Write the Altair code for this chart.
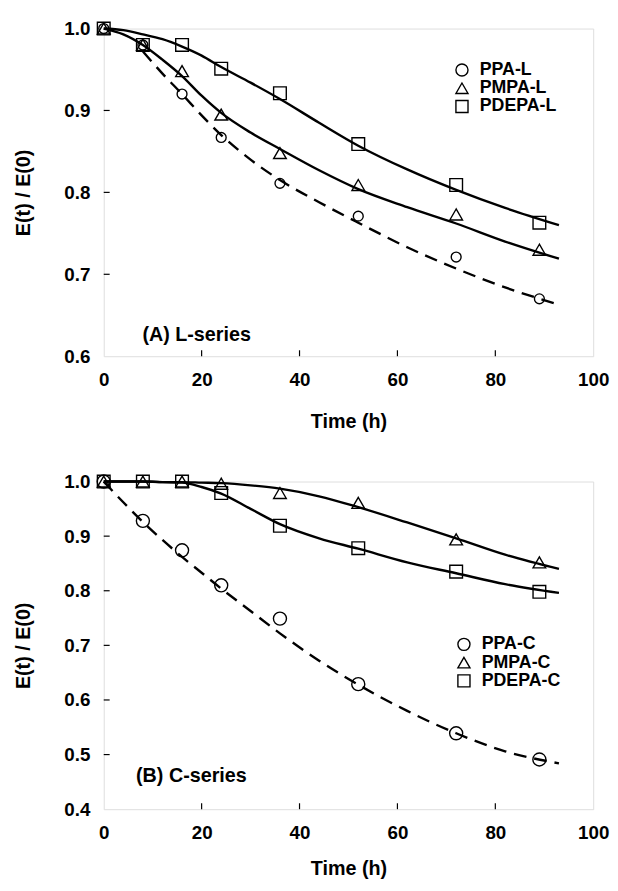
import altair as alt
import pandas as pd

# ---------------- data ----------------
t_obs = [0, 8, 16, 24, 36, 52, 72, 89]

# (A) L-series measured points
ppa_l = [1.0, 0.98, 0.92, 0.867, 0.811, 0.771, 0.721, 0.670]
pmpa_l = [1.0, 0.98, 0.948, 0.895, 0.848, 0.809, 0.773, 0.730]
pdepa_l = [1.0, 0.98, 0.98, 0.951, 0.921, 0.859, 0.809, 0.763]

# (B) C-series measured points
ppa_c = [1.0, 0.928, 0.874, 0.810, 0.749, 0.629, 0.539, 0.491]
pmpa_c = [1.0, 1.0, 1.0, 0.996, 0.979, 0.961, 0.894, 0.852]
pdepa_c = [1.0, 1.0, 1.0, 0.979, 0.919, 0.878, 0.835, 0.798]

# fitted curves
fit_t = [0, 4, 8, 12, 16, 20, 24, 30, 36, 44, 52, 62, 72, 82, 93]
fit_pdepa_l = [1.0, 0.998, 0.993, 0.987, 0.978, 0.967, 0.953, 0.934, 0.914, 0.885, 0.857, 0.828, 0.803, 0.781, 0.760]
fit_pmpa_l = [1.0, 0.993, 0.980, 0.962, 0.942, 0.918, 0.897, 0.873, 0.853, 0.827, 0.804, 0.782, 0.762, 0.740, 0.719]
fit_ppa_l_t = [8, 12, 16, 20, 24, 30, 36, 44, 52, 62, 72, 82, 93]
fit_ppa_l = [0.972, 0.945, 0.920, 0.894, 0.870, 0.840, 0.815, 0.788, 0.763, 0.733, 0.707, 0.684, 0.663]

fit_ppa_c = [1.0, 0.962, 0.926, 0.893, 0.862, 0.833, 0.804, 0.763, 0.722, 0.672, 0.628, 0.580, 0.539, 0.506, 0.484]
fit_pmpa_c = [1.0, 1.0, 1.0, 0.999, 0.999, 0.998, 0.997, 0.993, 0.987, 0.973, 0.953, 0.925, 0.896, 0.866, 0.840]
fit_pdepa_c = [1.0, 1.0, 1.0, 0.999, 0.998, 0.990, 0.978, 0.950, 0.922, 0.896, 0.877, 0.852, 0.832, 0.812, 0.796]

names_l = ["PPA-L", "PMPA-L", "PDEPA-L"]
names_c = ["PPA-C", "PMPA-C", "PDEPA-C"]
shapes = ["circle", "triangle-up", "square"]

x_ticks = [0, 20, 40, 60, 80, 100]
x_inner_ticks = [20, 40, 60, 80]
y_ticks_l = [0.6, 0.7, 0.8, 0.9, 1.0]
y_inner_l = [0.7, 0.8, 0.9]
y_ticks_c = [0.4, 0.5, 0.6, 0.7, 0.8, 0.9, 1.0]
y_inner_c = [0.5, 0.6, 0.7, 0.8, 0.9]

label_a = "(A) L-series"
label_b = "(B) C-series"

FONT = "Liberation Sans"
W, H = 496, 332


def make_panel(names, obs, fits_solid, fit_dash, ydom, yvals, yinner, label, label_xy,
               legend_xy, circle_size, x_title_pad):
    obs_df = pd.DataFrame(
        [{"t": t, "v": v, "series": n} for n, vals in zip(names, obs) for t, v in zip(t_obs, vals)]
    )
    solid_df = pd.DataFrame(
        [{"t": t, "v": v, "series": n} for n, (ts, vals) in fits_solid.items() for t, v in zip(ts, vals)]
    )
    dash_df = pd.DataFrame([{"t": t, "v": v} for t, v in zip(fit_dash[0], fit_dash[1])])

    xs = alt.Scale(domain=[0, 100], nice=False, zero=False)
    ys = alt.Scale(domain=ydom, nice=False, zero=False)
    xax = alt.Axis(values=x_ticks, format="d", title="Time (h)", grid=False, ticks=False, tickSize=0,
                   domain=False, labelFont=FONT, labelFontSize=19, labelFontWeight="bold",
                   labelColor="black", labelPadding=15, titleFont=FONT, titleFontSize=20,
                   titleFontWeight="bold", titleColor="black", titlePadding=x_title_pad, labelFlush=False)
    yax = alt.Axis(values=yvals, format=".1f", title="E(t) / E(0)", grid=False, ticks=False, tickSize=0,
                   domain=False, labelFont=FONT, labelFontSize=19, labelFontWeight="bold",
                   labelColor="black", labelPadding=14, titleFont=FONT, titleFontSize=20,
                   titleFontWeight="bold", titleColor="black", titlePadding=31, labelFlush=False)

    solid = alt.Chart(solid_df).mark_line(color="black", strokeWidth=2.4, interpolate="monotone").encode(
        x=alt.X("t:Q", scale=xs, axis=xax),
        y=alt.Y("v:Q", scale=ys, axis=yax),
        detail="series:N",
    )
    dashed = alt.Chart(dash_df).mark_line(color="black", strokeWidth=2.4, interpolate="monotone",
                                          strokeDash=[13, 8]).encode(
        x=alt.X("t:Q", scale=xs), y=alt.Y("v:Q", scale=ys)
    )
    shape_enc = alt.Shape(
        "series:N", scale=alt.Scale(domain=names, range=shapes),
        legend=alt.Legend(title=None, orient="none", legendX=legend_xy[0], legendY=legend_xy[1],
                          labelFont=FONT, labelFontSize=18, labelFontWeight="bold", labelColor="black",
                          symbolStrokeColor="black", symbolStrokeWidth=1.4, symbolSize=150,
                          labelOffset=9, rowPadding=0.5, symbolFillColor="transparent", padding=0),
    )
    circ = alt.Chart(obs_df).transform_filter(alt.datum.series == names[0]).mark_point(
        filled=False, color="black", strokeWidth=1.4, opacity=1, size=circle_size).encode(
        x=alt.X("t:Q", scale=xs), y=alt.Y("v:Q", scale=ys), shape=shape_enc
    )
    others = alt.Chart(obs_df).transform_filter(alt.datum.series != names[0]).mark_point(
        filled=False, color="black", strokeWidth=1.4, opacity=1, size=165).encode(
        x=alt.X("t:Q", scale=xs), y=alt.Y("v:Q", scale=ys), shape=shape_enc
    )
    xt_df = pd.DataFrame({"t": x_inner_ticks})
    xt = alt.Chart(xt_df).mark_rule(color="black", strokeWidth=1.2).encode(
        x=alt.X("t:Q", scale=xs), y=alt.value(H), y2=alt.value(H - 6)
    )
    yt_df = pd.DataFrame({"v": yinner})
    yt = alt.Chart(yt_df).mark_rule(color="black", strokeWidth=1.2).encode(
        y=alt.Y("v:Q", scale=ys), x=alt.value(0), x2=alt.value(6)
    )
    lab_df = pd.DataFrame({"t": [label_xy[0]], "v": [label_xy[1]], "txt": [label]})
    lab = alt.Chart(lab_df).mark_text(align="left", baseline="middle", font=FONT, fontSize=20,
                                      fontWeight="bold", color="black").encode(
        x=alt.X("t:Q", scale=xs), y=alt.Y("v:Q", scale=ys), text="txt:N"
    )
    return alt.layer(solid, dashed, xt, yt, circ, others, lab).properties(width=W, height=H)


top = make_panel(
    names_l, [ppa_l, pmpa_l, pdepa_l],
    {"PMPA-L": (fit_t, fit_pmpa_l), "PDEPA-L": (fit_t, fit_pdepa_l)},
    (fit_ppa_l_t, fit_ppa_l),
    [0.6, 1.0], y_ticks_l, y_inner_l, label_a, (7.9, 0.626), (354, 33), 100, 22,
)
bottom = make_panel(
    names_c, [ppa_c, pmpa_c, pdepa_c],
    {"PMPA-C": (fit_t, fit_pmpa_c), "PDEPA-C": (fit_t, fit_pdepa_c)},
    (fit_t, fit_ppa_c),
    [0.4, 1.0], y_ticks_c, y_inner_c, label_b, (6.6, 0.46), (356, 156), 175, 16,
)

chart = alt.vconcat(top, bottom, spacing=40).resolve_scale(
    shape="independent", x="independent", y="independent"
).properties(
    padding={"left": 5, "top": 5, "right": 0, "bottom": 0}
).configure_view(
    stroke="black", strokeWidth=1.3
).configure(
    background="white"
)

chart.save("out.html", embed_options={"renderer": "svg", "actions": False})
